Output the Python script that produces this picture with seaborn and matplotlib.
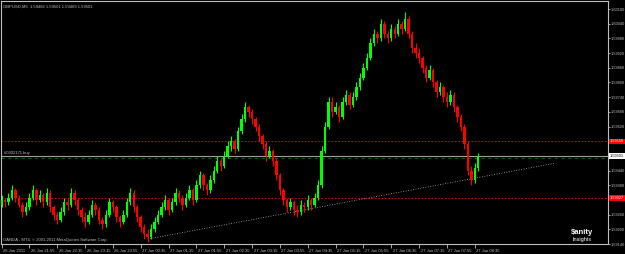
import numpy as np
import pandas as pd
import matplotlib
matplotlib.use("Agg")
import matplotlib.pyplot as plt
import matplotlib.transforms as mtrans
import seaborn as sns

# ---------------- data ----------------
chart_title = "GBPUSD,M5  1.59482 1.59501 1.59469 1.59501"
copyright_text = "OANDA - MT4, \u00a9 2001-2011 MetaQuotes Software Corp."
order_text = "#0302171 buy"
time_labels = ["26 Jun 2011", "26 Jun 21:55", "26 Jun 22:35", "26 Jun 23:15", "26 Jun 23:55",
               "27 Jun 00:35", "27 Jun 01:15", "27 Jun 01:55", "27 Jun 02:35", "27 Jun 03:15",
               "27 Jun 03:55", "27 Jun 04:35", "27 Jun 05:15", "27 Jun 05:55", "27 Jun 06:35",
               "27 Jun 07:15", "27 Jun 07:55", "27 Jun 08:35"]
time_label_bars = [0, 8, 16, 24, 32, 40, 48, 56, 64, 72, 80, 88, 96, 104, 112, 120, 128, 136]
price_ticks = [1.60100, 1.60040, 1.59980, 1.59920, 1.59860, 1.59800, 1.59740, 1.59680, 1.59620,
               1.59560, 1.59500, 1.59440, 1.59380, 1.59320, 1.59260, 1.59200, 1.59140]
price_labels = ["1.60100", "1.60040", "1.59980", "1.59920", "1.59860", "1.59800", "1.59740",
                "1.59680", "1.59620", "", "", "1.59440", "1.59380", "",
                "1.59260", "1.59200", "1.59140"]

opens = [1.5930, 1.5932, 1.5931, 1.5933, 1.5936, 1.5933, 1.5930, 1.5927, 1.5929, 1.5933,
         1.5936, 1.5932, 1.5934, 1.5931, 1.5935, 1.5929, 1.5926, 1.5924, 1.5927, 1.5931,
         1.5930, 1.5935, 1.5932, 1.5928, 1.5925, 1.5923, 1.5926, 1.5930, 1.5928, 1.5924,
         1.5922, 1.5926, 1.5931, 1.5929, 1.5925, 1.5923, 1.5926, 1.5931, 1.5935, 1.5929,
         1.5925, 1.5921, 1.5918, 1.5917, 1.5920, 1.5923, 1.5926, 1.5929, 1.5932, 1.5928,
         1.5931, 1.5935, 1.5933, 1.5930, 1.5933, 1.5936, 1.5932, 1.5938, 1.5942, 1.5938,
         1.5936, 1.5940, 1.5944, 1.5948, 1.5946, 1.5950, 1.5954, 1.5956, 1.5953, 1.5960,
         1.5965, 1.5970, 1.5968, 1.5965, 1.5962, 1.5958, 1.5955, 1.5950, 1.5952, 1.5948,
         1.5942, 1.5936, 1.5932, 1.5929, 1.5931, 1.5928, 1.5927, 1.5930, 1.5929, 1.5932,
         1.5930, 1.5933, 1.5938, 1.5952, 1.5962, 1.5972, 1.5968, 1.5970, 1.5966, 1.5972,
         1.5975, 1.5971, 1.5974, 1.5978, 1.5982, 1.5986, 1.5990, 1.5996, 1.6000, 1.5998,
         1.6004, 1.6000, 1.5998, 1.6002, 1.6000, 1.6004, 1.6002, 1.6006, 1.6000, 1.5994,
         1.5992, 1.5990, 1.5986, 1.5982, 1.5985, 1.5980, 1.5976, 1.5978, 1.5974, 1.5972,
         1.5975, 1.5970, 1.5966, 1.5962, 1.5955, 1.5944, 1.5940, 1.5945]
closes = [1.5932, 1.5931, 1.5933, 1.5936, 1.5933, 1.5930, 1.5927, 1.5929, 1.5933, 1.5936,
          1.5932, 1.5934, 1.5931, 1.5935, 1.5929, 1.5926, 1.5924, 1.5927, 1.5931, 1.5930,
          1.5935, 1.5932, 1.5928, 1.5925, 1.5923, 1.5926, 1.5930, 1.5928, 1.5924, 1.5922,
          1.5926, 1.5931, 1.5929, 1.5925, 1.5923, 1.5926, 1.5931, 1.5935, 1.5929, 1.5925,
          1.5921, 1.5918, 1.5917, 1.5920, 1.5923, 1.5926, 1.5929, 1.5932, 1.5928, 1.5931,
          1.5935, 1.5933, 1.5930, 1.5933, 1.5936, 1.5932, 1.5938, 1.5942, 1.5938, 1.5936,
          1.5940, 1.5944, 1.5948, 1.5946, 1.5950, 1.5954, 1.5956, 1.5953, 1.5960, 1.5965,
          1.5970, 1.5968, 1.5965, 1.5962, 1.5958, 1.5955, 1.5950, 1.5952, 1.5948, 1.5942,
          1.5936, 1.5932, 1.5929, 1.5931, 1.5928, 1.5927, 1.5930, 1.5929, 1.5932, 1.5930,
          1.5933, 1.5938, 1.5952, 1.5962, 1.5972, 1.5968, 1.5970, 1.5966, 1.5972, 1.5975,
          1.5971, 1.5974, 1.5978, 1.5982, 1.5986, 1.5990, 1.5996, 1.6000, 1.5998, 1.6004,
          1.6000, 1.5998, 1.6002, 1.6000, 1.6004, 1.6002, 1.6006, 1.6000, 1.5994, 1.5992,
          1.5990, 1.5986, 1.5982, 1.5985, 1.5980, 1.5976, 1.5978, 1.5974, 1.5972, 1.5975,
          1.5970, 1.5966, 1.5962, 1.5955, 1.5944, 1.5940, 1.5945, 1.5950]
highs = [1.5934, 1.5933, 1.5935, 1.5938, 1.5937, 1.5934, 1.5931, 1.5931, 1.5935, 1.5938,
         1.5937, 1.5936, 1.5935, 1.5937, 1.5936, 1.5930, 1.5927, 1.5929, 1.5933, 1.5933,
         1.5937, 1.5936, 1.5933, 1.5929, 1.5927, 1.5928, 1.5932, 1.5931, 1.5929, 1.5925,
         1.5928, 1.5933, 1.5932, 1.5930, 1.5926, 1.5928, 1.5933, 1.5937, 1.5936, 1.5930,
         1.5926, 1.5922, 1.5920, 1.5922, 1.5925, 1.5928, 1.5931, 1.5934, 1.5933, 1.5933,
         1.5937, 1.5936, 1.5934, 1.5935, 1.5938, 1.5937, 1.5940, 1.5944, 1.5943, 1.5939,
         1.5942, 1.5946, 1.5950, 1.5949, 1.5952, 1.5956, 1.5958, 1.5957, 1.5962, 1.5967,
         1.5972, 1.5971, 1.5969, 1.5966, 1.5963, 1.5959, 1.5956, 1.5954, 1.5953, 1.5949,
         1.5943, 1.5937, 1.5933, 1.5933, 1.5932, 1.5930, 1.5932, 1.5931, 1.5934, 1.5933,
         1.5935, 1.5940, 1.5954, 1.5964, 1.5974, 1.5974, 1.5972, 1.5971, 1.5974, 1.5977,
         1.5976, 1.5976, 1.5980, 1.5984, 1.5988, 1.5992, 1.5998, 1.6002, 1.6001, 1.6006,
         1.6005, 1.6001, 1.6004, 1.6003, 1.6006, 1.6005, 1.6009, 1.6007, 1.6001, 1.5996,
         1.5994, 1.5991, 1.5987, 1.5987, 1.5986, 1.5981, 1.5980, 1.5979, 1.5976, 1.5977,
         1.5976, 1.5971, 1.5967, 1.5963, 1.5956, 1.5946, 1.5947, 1.5951]
lows = [1.5929, 1.5929, 1.5930, 1.5932, 1.5931, 1.5929, 1.5925, 1.5926, 1.5928, 1.5932,
        1.5930, 1.5931, 1.5929, 1.5930, 1.5927, 1.5924, 1.5922, 1.5923, 1.5926, 1.5928,
        1.5929, 1.5930, 1.5926, 1.5923, 1.5921, 1.5922, 1.5925, 1.5926, 1.5922, 1.5920,
        1.5921, 1.5925, 1.5927, 1.5923, 1.5921, 1.5922, 1.5925, 1.5930, 1.5927, 1.5923,
        1.5919, 1.5916, 1.5915, 1.5916, 1.5919, 1.5922, 1.5925, 1.5928, 1.5926, 1.5927,
        1.5930, 1.5931, 1.5928, 1.5929, 1.5932, 1.5930, 1.5931, 1.5937, 1.5936, 1.5934,
        1.5935, 1.5939, 1.5943, 1.5944, 1.5945, 1.5949, 1.5952, 1.5951, 1.5952, 1.5959,
        1.5964, 1.5966, 1.5963, 1.5960, 1.5956, 1.5953, 1.5948, 1.5949, 1.5946, 1.5940,
        1.5934, 1.5930, 1.5927, 1.5928, 1.5926, 1.5925, 1.5926, 1.5927, 1.5928, 1.5928,
        1.5929, 1.5932, 1.5937, 1.5951, 1.5961, 1.5966, 1.5967, 1.5964, 1.5965, 1.5971,
        1.5969, 1.5970, 1.5973, 1.5977, 1.5981, 1.5985, 1.5989, 1.5995, 1.5996, 1.5997,
        1.5998, 1.5996, 1.5997, 1.5998, 1.5999, 1.6000, 1.6001, 1.5998, 1.5992, 1.5990,
        1.5988, 1.5984, 1.5980, 1.5981, 1.5978, 1.5974, 1.5975, 1.5972, 1.5970, 1.5971,
        1.5968, 1.5964, 1.5960, 1.5953, 1.5942, 1.5938, 1.5939, 1.5944]

stop_level = 1.59559
bid_price = 1.59501
order_price = 1.59490
target_level = 1.59327
trend_bars = [42, 159]
trend_prices = [1.5916, 1.5947]

# ---------------- style ----------------
sns.set_theme(style="dark", rc={"axes.facecolor": "black", "figure.facecolor": "black"})
plt.rcParams['font.family'] = ['Liberation Sans', 'DejaVu Sans']
gray = "#C0C0C0"
fs = 3.0
fs_y = 2.75

df = pd.DataFrame({"open": opens, "high": highs, "low": lows, "close": closes})
df["bar"] = np.arange(len(df))
df["up"] = df["close"] >= df["open"]

W, H = 625, 254
fig = plt.figure(figsize=(W / 100, H / 100), dpi=100)
ax = fig.add_axes([0.5 / W, 10 / H, 607.5 / W, 243 / H])
ax.set_facecolor("black")

px_per_bar = 3.48
x0_px = 1.5
ax.set_xlim((0.5 - x0_px) / px_per_bar, (608 - x0_px) / px_per_bar)
ax.set_ylim(1.59144, 1.60133)

colors = np.where(df["up"], "#00FF00", "#FF0000")
ax.vlines(df["bar"], df["low"], df["high"], colors=colors, linewidth=0.8, zorder=3)
body = (df["close"] - df["open"]).where(lambda s: s.abs() > 0.00001, 0.00001)
ax.bar(df["bar"], body, bottom=df["open"], width=0.7, color=colors, linewidth=0, zorder=4)

# horizontal levels
ax.axhline(stop_level, color="#FF0000", linestyle=(0, (2, 2)), linewidth=0.6, zorder=2)
ax.axhline(target_level, color="#FF0000", linestyle=(0, (2, 2)), linewidth=0.6, zorder=2)
ax.axhline(bid_price, color="#A0A0A0", linewidth=0.8, zorder=2)
ax.axhline(order_price, color="#006400", linestyle=(0, (3, 3)), linewidth=0.8, zorder=2)

# trendline
sns.lineplot(x=trend_bars, y=trend_prices, ax=ax, color="#B0B0B0", linewidth=0.6,
             linestyle=(0, (1, 2)), zorder=2)

# axes / ticks
for s in ax.spines.values():
    s.set_color(gray)
    s.set_linewidth(0.8)
ax.yaxis.tick_right()
ax.set_yticks(price_ticks)
ax.set_yticklabels(price_labels)
ax.set_xticks(time_label_bars)
ax.set_xticklabels(time_labels, ha="left")
ax.tick_params(axis="y", colors=gray, labelsize=fs_y, length=1.5, width=0.6, pad=0.5, right=True, left=False)
ax.tick_params(axis="x", colors=gray, labelsize=fs, length=3, width=0.6, pad=0.8, bottom=True)
for lab in ax.get_xticklabels():
    lab.set_transform(lab.get_transform() + mtrans.ScaledTranslation(1.5 / 100, 0, fig.dpi_scale_trans))
ax.grid(False)
ax.set_xlabel("")
ax.set_ylabel("")

# axis price labels
blend = mtrans.blended_transform_factory(ax.transAxes, ax.transData)
for val, fc, tc in [(stop_level, "#FF0000", "white"), (target_level, "#FF0000", "white"),
                    (bid_price, "white", "black")]:
    ax.text(1.003, val, f"{val:.5f}", transform=blend, fontsize=fs_y, color=tc, va="center",
            ha="left", clip_on=False, zorder=10,
            bbox=dict(boxstyle="square,pad=0.25", facecolor=fc, edgecolor="none"))

ax.text(0.006, order_price + 0.00012, order_text, transform=blend, fontsize=fs, color=gray,
        va="bottom", ha="left")
ax.text(0.004, 0.985, chart_title, transform=ax.transAxes, fontsize=fs, color=gray,
        va="top", ha="left")
ax.text(0.004, 0.008, copyright_text, transform=ax.transAxes, fontsize=fs, color=gray,
        va="bottom", ha="left")
fig.text(582 / W, 1 - 232 / H, "$anity", fontsize=5.5, color="white", ha="center", va="center",
         fontweight="bold")
fig.text(582 / W, 1 - 239 / H, "Insights", fontsize=4, color="white", ha="center", va="center")

fig.savefig("out.png", dpi=100, facecolor="black")
